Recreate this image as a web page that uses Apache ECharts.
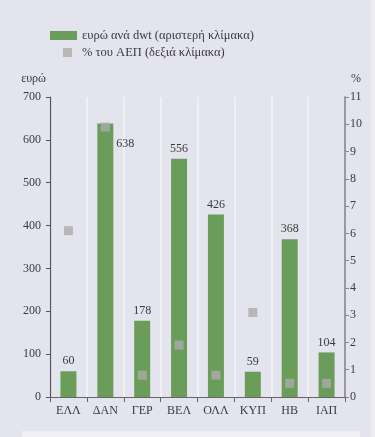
<!DOCTYPE html>
<html>
<head>
<meta charset="utf-8">
<script src="https://cdn.jsdelivr.net/npm/echarts@6/dist/echarts.min.js"></script>
<style>
html,body{margin:0;padding:0;background:#e4e4ef;}
#c{width:375px;height:437px;}
</style>
</head>
<body>
<div id="c"></div>
<script>
const categories = ['ΕΛΛ', 'ΔΑΝ', 'ΓΕΡ', 'ΒΕΛ', 'ΟΛΛ', 'ΚΥΠ', 'ΗΒ', 'ΙΑΠ'];
const euroPerDwt = [60, 638, 178, 556, 426, 59, 368, 104];
const pctGdp = [6.1, 9.9, 0.8, 1.9, 0.8, 3.1, 0.5, 0.5];
const leftTicks = { min: 0, max: 700, interval: 100 };
const rightTicks = { min: 0, max: 11, interval: 1 };
const seriesNames = ['ευρώ ανά dwt (αριστερή κλίμακα)', '% του ΑΕΠ (δεξιά κλίμακα)'];

const FONT = 'Liberation Serif';
const TXT = '#3a3a3a';
const chart = echarts.init(document.getElementById('c'), null, { renderer: 'canvas' });

const barData = euroPerDwt.map((v, i) => {
  if (i === 1) {
    return { value: v, label: { position: [19, 14], align: 'left', verticalAlign: 'top' } };
  }
  return v;
});

chart.setOption({
  backgroundColor: '#e4e4ef',
  animation: false,
  textStyle: { fontFamily: FONT, color: TXT },
  graphic: [
    { type: 'rect', shape: { x: 22, y: 431, width: 338, height: 6 }, style: { fill: '#efeff5' }, silent: true },
    { type: 'rect', shape: { x: 371, y: 0, width: 4, height: 437 }, style: { fill: '#ececf2' }, silent: true }
  ],
  legend: [
    {
      data: [{ name: seriesNames[0], icon: 'rect' }],
      left: 50, top: 29, itemWidth: 27, itemHeight: 9, padding: 0,
      textStyle: { fontFamily: FONT, fontSize: 12.5, color: TXT, padding: [0, 0, 0, 0] }
    },
    {
      data: [{ name: seriesNames[1], icon: 'rect' }],
      left: 63, top: 46, itemWidth: 9, itemHeight: 9, padding: 0,
      textStyle: { fontFamily: FONT, fontSize: 12.5, color: TXT, padding: [0, 0, 0, 5] }
    }
  ],
  grid: { left: 50, right: 30, top: 97, bottom: 40, containLabel: false },
  xAxis: {
    type: 'category',
    data: categories,
    boundaryGap: true,
    axisLine: { lineStyle: { color: '#666', width: 1 } },
    axisTick: { show: true, length: 5, lineStyle: { color: '#666' } },
    axisLabel: { fontFamily: FONT, fontSize: 12, color: TXT, margin: 8, interval: 0 },
    splitLine: { show: true, interval: 0, lineStyle: { color: '#f4f4fa', width: 1.5 } }
  },
  yAxis: [
    {
      type: 'value', position: 'left',
      min: leftTicks.min, max: leftTicks.max, interval: leftTicks.interval,
      name: 'ευρώ', nameLocation: 'end', nameGap: 12,
      nameTextStyle: { fontFamily: FONT, fontSize: 12, color: TXT, align: 'right', padding: [0, 4, 0, 0] },
      axisLine: { show: true, lineStyle: { color: '#555', width: 1.2 } },
      axisTick: { show: true, length: 4, lineStyle: { color: '#555' } },
      axisLabel: { fontFamily: FONT, fontSize: 12, color: TXT, margin: 9 },
      splitLine: { show: false }
    },
    {
      type: 'value', position: 'right',
      min: rightTicks.min, max: rightTicks.max, interval: rightTicks.interval,
      name: '%', nameLocation: 'end', nameGap: 12,
      nameTextStyle: { fontFamily: FONT, fontSize: 12, color: TXT, align: 'left', padding: [0, 0, 0, 6] },
      axisLine: { show: true, lineStyle: { color: '#9a9a9a', width: 2 } },
      axisTick: { show: true, length: 4, lineStyle: { color: '#888' } },
      axisLabel: { fontFamily: FONT, fontSize: 12, color: TXT, margin: 5 },
      splitLine: { show: false }
    }
  ],
  series: [
    {
      name: seriesNames[0],
      type: 'bar',
      yAxisIndex: 0,
      data: barData,
      barWidth: 16,
      itemStyle: { color: '#6b9d5a' },
      label: { show: true, position: 'top', distance: 4, fontFamily: FONT, fontSize: 12, color: TXT },
      z: 2
    },
    {
      name: seriesNames[1],
      type: 'scatter',
      yAxisIndex: 1,
      data: pctGdp,
      symbol: 'rect',
      symbolSize: 9,
      itemStyle: { color: '#ababab' },
      z: 3
    }
  ]
});
</script>
</body>
</html>
